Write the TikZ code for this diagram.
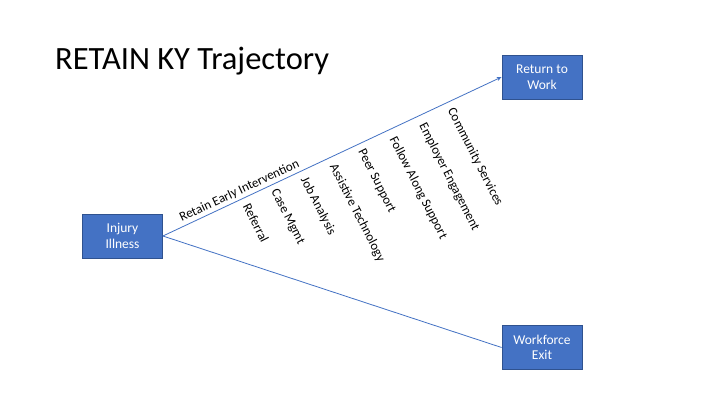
\documentclass[tikz,border=0pt]{standalone}
\usepackage{fontspec}
\setmainfont{Carlito}
\usetikzlibrary{arrows.meta}
\definecolor{boxfill}{HTML}{4472C4}
\definecolor{boxedge}{HTML}{2F528F}
\definecolor{linecol}{HTML}{4472C4}
\begin{document}
\begin{tikzpicture}[x=1pt,y=-1pt,
  box/.style={draw=boxedge, line width=0.8pt, fill=boxfill, text=white,
    minimum width=80pt, minimum height=44pt, inner sep=0pt, align=center,
    font=\fontsize{13.5}{15.5}\selectfont},
  conn/.style={draw=linecol, line width=0.8pt},
  lbl/.style={font=\fontsize{13}{15}\selectfont, inner sep=0pt, rotate=-63}]
\useasboundingbox[fill=white] (0,0) rectangle (720,405);
\node[anchor=base west, font=\fontsize{32.5}{38}\selectfont, inner sep=0pt] (title) at (55,69) {RETAIN KY Trajectory};
\node[box] (inj) at (122.5,236) {Injury\\Illness};
\node[box] (ret) at (542,77) {Return to\\Work};
\node[box] (exit) at (542,347.5) {Workforce\\Exit};
\draw[conn, -{Stealth[length=5pt,width=4pt]}] (inj.east) -- (ret.west);
\draw[conn] (inj.east) -- (exit.west);
\node[font=\fontsize{13}{15}\selectfont, inner sep=0pt, rotate=25.1] (rei) at (239.5,191) {Retain Early Intervention};
\node[lbl] (l1) at (256,223) {Referral};
\node[lbl] (l2) at (287.5,217) {Case Mgmt};
\node[lbl] (l3) at (318,206) {Job Analysis};
\node[lbl] (l4) at (357,213) {Assistive Technology};
\node[lbl] (l5) at (376.5,181) {Peer Support};
\node[lbl] (l6) at (418,188) {Follow Along Support};
\node[lbl] (l7) at (449,177) {Employer Engagement};
\node[lbl] (l8) at (475,157) {Community Services};
\end{tikzpicture}
\end{document}
